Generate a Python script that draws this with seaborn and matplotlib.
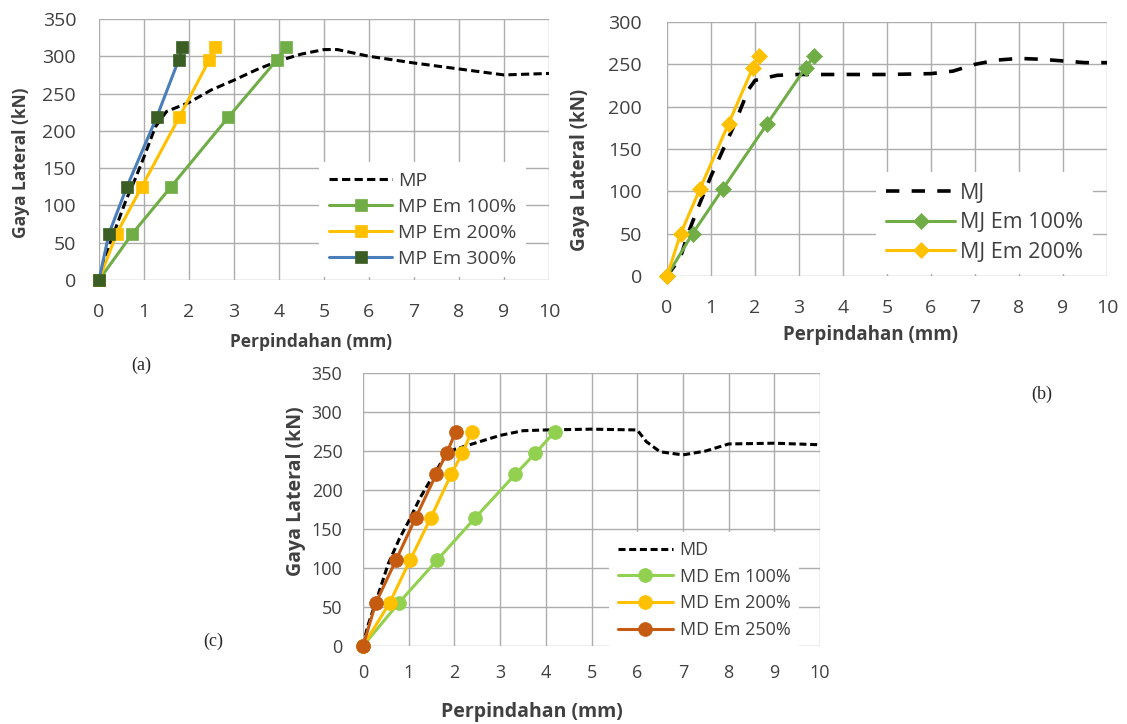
import matplotlib
matplotlib.use("Agg")
import matplotlib.pyplot as plt
import seaborn as sns
import pandas as pd

# ---------------- data ----------------
# Panel (a)
mp_x = [0, 0.25, 0.6, 0.8, 1.0, 1.25, 1.5, 2.0, 2.5, 3.0, 3.5, 4.0, 4.5, 5.0, 5.3, 6.0, 7.0, 8.0, 9.0, 10.0]
mp_y = [0, 50, 107, 135, 165, 205, 226, 238, 255, 268, 282, 294, 303, 309, 309, 300, 291, 283, 275, 277]
mp100_x = [0, 0.74, 1.6, 2.87, 3.95, 4.15]
mp100_y = [0, 62, 125, 218, 295, 312]
mp200_x = [0, 0.39, 0.95, 1.78, 2.45, 2.58]
mp200_y = [0, 62, 125, 218, 295, 312]
mp300_x = [0, 0.22, 0.62, 1.28, 1.77, 1.85]
mp300_y = [0, 62, 125, 218, 295, 312]

# Panel (b)
mj_x = [0, 0.3, 0.47, 0.7, 1.0, 1.5, 1.85, 2.0, 2.5, 3.0, 4.0, 5.0, 6.0, 6.5, 7.0, 7.5, 8.0, 8.5, 9.0, 9.5, 10.0]
mj_y = [0, 21, 49, 80, 118, 175, 220, 231, 237, 238, 238, 238, 239, 242, 250, 255, 257, 256, 254, 252, 252]
mj100_x = [0, 0.58, 1.27, 2.28, 3.15, 3.35]
mj100_y = [0, 50, 103, 180, 246, 260]
mj200_x = [0, 0.31, 0.75, 1.4, 1.95, 2.08]
mj200_y = [0, 50, 103, 180, 246, 260]

# Panel (c)
md_x = [0, 0.1, 0.3, 0.55, 0.8, 1.0, 1.25, 1.5, 1.75, 2.0, 2.5, 3.0, 3.5, 4.0, 5.0, 6.0, 6.2, 6.5, 7.0, 7.5, 8.0, 9.0, 10.0]
md_y = [0, 25, 60, 105, 138, 160, 190, 215, 239, 252, 261, 270, 276, 277, 278, 277, 262, 249, 245, 250, 259, 260, 258]
md100_x = [0, 0.78, 1.62, 2.45, 3.33, 3.77, 4.2]
md100_y = [0, 55, 110, 164, 220, 247, 275]
md200_x = [0, 0.58, 1.03, 1.48, 1.93, 2.17, 2.38]
md200_y = [0, 55, 110, 164, 220, 247, 275]
md250_x = [0, 0.28, 0.72, 1.15, 1.6, 1.83, 2.03]
md250_y = [0, 55, 110, 164, 220, 247, 275]

x_ticks = list(range(0, 11))

# ---------------- style ----------------
sns.set_theme(style="white")
plt.rcParams['font.family'] = ['Open Sans', 'DejaVu Sans']

GRID = "#ADADAD"
TXT = "#404040"
GREEN = "#70AD47"
LGREEN = "#92D050"
YELLOW = "#FFC000"
BLUE = "#4A7EBB"
DGREEN = "#3B5E25"
BROWN = "#C55A11"

W, H = 1127, 724
fig = plt.figure(figsize=(W / 100, H / 100), dpi=100)


def make_ax(x0, x1, ytop, ybot, ymax, ystep, label_size, tick_size, xpad, ypad,
            xlab_pos, ylab_pos):
    ax = fig.add_axes([x0 / W, 1 - ybot / H, (x1 - x0) / W, (ybot - ytop) / H])
    ax.set_xlim(0, 10)
    ax.set_ylim(0, ymax)
    ax.set_xticks(x_ticks)
    ax.set_yticks(list(range(0, ymax + 1, ystep)))
    ax.grid(True, color=GRID, linewidth=1.0)
    for s in ax.spines.values():
        s.set_visible(False)
    ax.tick_params(axis='both', length=0, labelsize=tick_size, colors=TXT)
    ax.tick_params(axis='x', pad=xpad)
    ax.tick_params(axis='y', pad=ypad)
    ax.set_xlabel("Perpindahan (mm)", fontsize=label_size, fontweight='bold', color=TXT)
    ax.set_ylabel("Gaya Lateral (kN)", fontsize=label_size, fontweight='bold', color=TXT)
    ax.xaxis.set_label_coords(*xlab_pos)
    ax.yaxis.set_label_coords(*ylab_pos)
    ax.xaxis.label.set_va('center')
    ax.yaxis.label.set_va('center')
    ax.set_axisbelow(True)
    return ax


def series(ax, xs, ys, label, color, marker=None, mfc=None, ms=9, lw=2.2, dashes=None):
    df = pd.DataFrame({"x": xs, "y": ys})
    kw = dict(data=df, x="x", y="y", ax=ax, sort=False, estimator=None,
              color=color, linewidth=lw, label=label)
    if marker is not None:
        kw.update(marker=marker, markersize=ms, markerfacecolor=mfc or color,
                  markeredgecolor=mfc or color, markeredgewidth=0.5)
    sns.lineplot(**kw)
    ln = ax.lines[-1]
    if dashes is not None:
        ln.set_dashes(dashes)
        ln.set_dash_capstyle('butt')
    ln.set_clip_on(False)


def legend(ax, anchor, size, hl, htp, ls):
    leg = ax.legend(loc='upper left', bbox_to_anchor=anchor, borderaxespad=0,
                    fontsize=size, frameon=True, framealpha=1.0, facecolor='white',
                    edgecolor='white', handlelength=hl, labelspacing=ls,
                    handletextpad=htp, borderpad=0.5, fancybox=False)
    leg.get_frame().set_linewidth(0)
    for t in leg.get_texts():
        t.set_color(TXT)


# Panel (a)
axa = make_ax(99, 549, 19, 280, 350, 50, 12.5, 14, 16.5, 16.5,
              (0.471, -0.2375), (-0.173, 0.449))
series(axa, mp_x, mp_y, "MP", "black", lw=2.2, dashes=(2.7, 1.4))
series(axa, mp100_x, mp100_y, "MP Em 100%", GREEN, marker='s')
series(axa, mp200_x, mp200_y, "MP Em 200%", YELLOW, marker='s')
series(axa, mp300_x, mp300_y, "MP Em 300%", BLUE, marker='s', mfc=DGREEN)
legend(axa, (0.4896, 0.452), 14, 3.25, 0.31, 0.41)

# Panel (b)
axb = make_ax(667, 1107, 22, 276, 300, 50, 13.5, 14, 16.5, 18,
              (0.4636, -0.232), (-0.198, 0.418))
series(axb, mj_x, mj_y, "MJ", "black", lw=2.6, dashes=(3.7, 3.4))
series(axb, mj100_x, mj100_y, "MJ Em 100%", GREEN, marker='D', ms=8)
series(axb, mj200_x, mj200_y, "MJ Em 200%", YELLOW, marker='D', ms=8)
legend(axb, (0.474, 0.41), 15.5, 3.2, 0.2, 0.4)

# Panel (c)
axc = make_ax(363, 820, 373, 646, 350, 50, 14, 13, 13, 14.8,
              (0.37, -0.24), (-0.147, 0.567))
series(axc, md_x, md_y, "MD", "black", lw=2.2, dashes=(2.3, 1.2))
series(axc, md100_x, md100_y, "MD Em 100%", LGREEN, marker='o', ms=10)
series(axc, md200_x, md200_y, "MD Em 200%", YELLOW, marker='o', ms=10)
series(axc, md250_x, md250_y, "MD Em 250%", BROWN, marker='o', ms=10)
legend(axc, (0.538, 0.4176), 13, 3.05, 0.37, 0.48)

# Panel letters
fig.text(141 / W, 1 - 365 / H, "(a)", fontsize=13, family=['Liberation Serif'], ha='center', va='center')
fig.text(1042 / W, 1 - 394 / H, "(b)", fontsize=13, family=['Liberation Serif'], ha='center', va='center')
fig.text(213 / W, 1 - 641 / H, "(c)", fontsize=13, family=['Liberation Serif'], ha='center', va='center')

fig.savefig("out.png", dpi=100)
